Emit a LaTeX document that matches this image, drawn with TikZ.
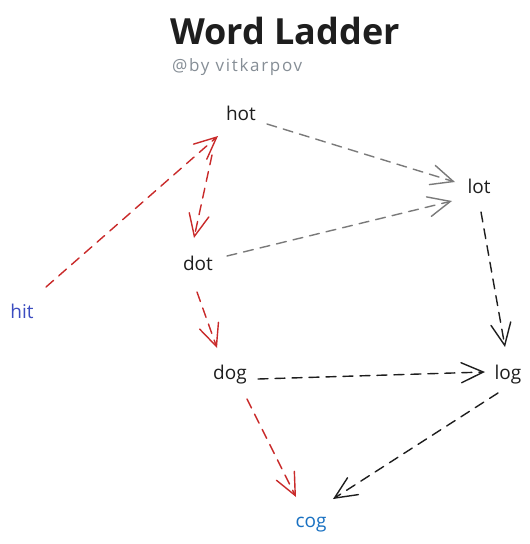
\documentclass[tikz,border=0pt]{standalone}
\usepackage{fontspec}
\setmainfont{Open Sans}
\newfontfamily\subfont[LetterSpace=10]{Open Sans}
\usetikzlibrary{arrows.meta}
\definecolor{exred}{HTML}{C92A2A}
\definecolor{exgray}{HTML}{7A7A7A}
\definecolor{exblack}{HTML}{1E1E1E}
\definecolor{exindigo}{HTML}{3B4CC0}
\definecolor{exblue}{HTML}{1971C2}
\definecolor{subgray}{HTML}{868E96}
\tikzset{
  word/.style={anchor=base, inner sep=0pt, font=\fontsize{19}{22}\selectfont, text=exblack},
  link/.style={line width=1.4pt, dash pattern=on 10pt off 7pt, line cap=round,
    -{Straight Barb[length=22pt,width=20pt,line cap=round]}},
  redlink/.style={link, draw=exred},
  graylink/.style={link, draw=exgray},
  blacklink/.style={link, draw=exblack},
}
\begin{document}
\begin{tikzpicture}[x=1pt,y=-1pt]
\useasboundingbox[fill=white] (0,0) rectangle (530,544);
\node[anchor=base, inner sep=0pt, font=\bfseries\fontsize{36}{40}\selectfont, text=exblack] (title) at (285,44) {Word Ladder};
\node[anchor=base west, inner sep=0pt, font=\subfont\fontsize{17}{20}\selectfont, text=subgray] (sub) at (172,71) {@by vitkarpov};
\node[word] (hot) at (241,120) {hot};
\node[word] (lot) at (479,193) {lot};
\node[word] (dot) at (198,270) {dot};
\node[word, text=exindigo] (hit) at (22,318) {hit};
\node[word] (dog) at (230,379) {dog};
\node[word] (log) at (508,379) {log};
\node[word, text=exblue] (cog) at (311,527) {cog};
\draw[redlink] ([shift={(24,-31)}]hit.base) -- ([shift={(-23,16)}]hot.base);
\draw[redlink] ([shift={(-29,35)}]hot.base) -- ([shift={(-4,-32)}]dot.base);
\draw[graylink] ([shift={(26,4)}]hot.base) -- ([shift={(-24,-11)}]lot.base);
\draw[graylink] ([shift={(29,-14)}]dot.base) -- ([shift={(-27,8)}]lot.base);
\draw[blacklink] ([shift={(2,19)}]lot.base) -- ([shift={(-3,-32)}]log.base);
\draw[redlink] ([shift={(-1,22)}]dot.base) -- ([shift={(-13,-31)}]dog.base);
\draw[blacklink] ([shift={(28,0)}]dog.base) -- ([shift={(-23,-7)}]log.base);
\draw[redlink] ([shift={(17,20)}]dog.base) -- ([shift={(-15,-30)}]cog.base);
\draw[blacklink] ([shift={(-10,14)}]log.base) -- ([shift={(22,-28)}]cog.base);
\end{tikzpicture}
\end{document}
